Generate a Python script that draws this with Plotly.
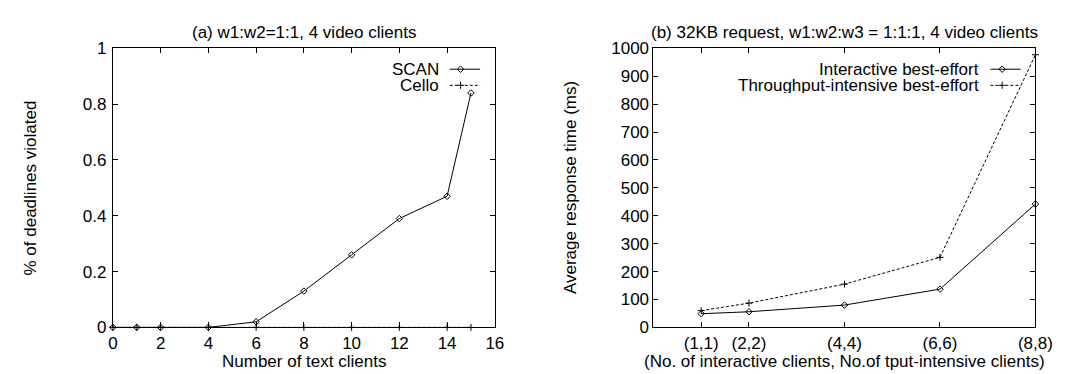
import plotly.graph_objects as go

# ---- data ----
text_clients = [0, 1, 2, 4, 6, 8, 10, 12, 14, 15]
scan_violated = [0, 0, 0, 0, 0.02, 0.13, 0.26, 0.39, 0.47, 0.84]
cello_violated = [0, 0, 0, 0, 0, 0, 0, 0, 0, 0]

client_pairs = [1, 2, 4, 6, 8]
pair_labels = ["(1,1)", "(2,2)", "(4,4)", "(6,6)", "(8,8)"]
interactive_ms = [49, 56, 80, 137, 442]
throughput_ms = [60, 87, 155, 251, 977]

W, H = 1065, 374
FONT = "Liberation Sans, Arial, Helvetica, sans-serif"
FS = 17

def px(x):
    return x / W

def py(y):
    return 1 - y / H

fig = go.Figure()

line_solid = dict(color="black", width=1)
line_dash = dict(color="black", width=1, dash="3px,2px")
m_diamond = dict(symbol="diamond-open", size=5, color="black", line=dict(width=1, color="black"))
m_plus = dict(symbol="cross-thin-open", size=5, color="black", line=dict(width=1, color="black"))

# left panel
fig.add_trace(go.Scatter(x=text_clients, y=cello_violated, mode="lines+markers",
                         line=line_dash, marker=m_plus, xaxis="x", yaxis="y",
                         cliponaxis=False, showlegend=False))
fig.add_trace(go.Scatter(x=text_clients, y=scan_violated, mode="lines+markers",
                         line=line_solid, marker=m_diamond, xaxis="x", yaxis="y",
                         cliponaxis=False, showlegend=False))
# right panel
fig.add_trace(go.Scatter(x=client_pairs, y=throughput_ms, mode="lines+markers",
                         line=line_dash, marker=m_plus, xaxis="x2", yaxis="y2",
                         cliponaxis=False, showlegend=False))
fig.add_trace(go.Scatter(x=client_pairs, y=interactive_ms, mode="lines+markers",
                         line=line_solid, marker=m_diamond, xaxis="x2", yaxis="y2",
                         cliponaxis=False, showlegend=False))

# legend samples on a pixel overlay axis
legend_items = [
    ("SCAN", 436, 55, 446, 477, 457, line_solid, m_diamond),
    ("Cello", 436, 72, 446, 477, 457, line_dash, m_plus),
    ("Interactive best-effort", 987, 55, 998, 1029, 1010, line_solid, m_diamond),
    ("Throughput-intensive best-effort", 987, 72, 998, 1029, 1010, line_dash, m_plus),
]
annotations = []
for label, tx, ty, x0, x1, xm, ln, mk in legend_items:
    fig.add_trace(go.Scatter(x=[x0, x1], y=[ty, ty], mode="lines", line=ln,
                             xaxis="x3", yaxis="y3", showlegend=False, hoverinfo="skip"))
    fig.add_trace(go.Scatter(x=[xm], y=[ty], mode="markers", marker=mk,
                             xaxis="x3", yaxis="y3", showlegend=False, hoverinfo="skip"))
    annotations.append(dict(text=label, x=px(tx), y=py(ty), xref="paper", yref="paper",
                            xanchor="right", yanchor="middle", showarrow=False,
                            height=15, valign="middle", borderpad=0,
                            font=dict(family=FONT, size=FS, color="black")))

def ann(text, x, y, angle=0):
    return dict(text=text, x=px(x), y=py(y), xref="paper", yref="paper",
                xanchor="center", yanchor="middle", textangle=angle, showarrow=False,
                font=dict(family=FONT, size=FS, color="black"))

annotations += [
    ann("(a) w1:w2=1:1, 4 video clients", 297, 16),
    ann("(b) 32KB request, w1:w2:w3 = 1:1:1, 4 video clients", 849, 16),
    ann("Number of text clients", 297, 363),
    ann("(No. of interactive clients, No.of tput-intensive clients)", 849, 363),
    ann("% of deadlines violated", 18, 180, -90),
    ann("Average response time (ms)", 570, 180, -90),
]

ax_common = dict(showgrid=False, zeroline=False, showline=True, linecolor="black", linewidth=1,
                 mirror="ticks", ticks="inside", ticklen=5, tickcolor="black", tickwidth=1,
                 tickfont=dict(family=FONT, size=FS, color="black"))

ydom = [py(327), py(33)]
fig.update_layout(
    width=W, height=H,
    margin=dict(l=0, r=0, t=0, b=0),
    paper_bgcolor="white", plot_bgcolor="rgba(0,0,0,0)",
    showlegend=False,
    xaxis=dict(domain=[px(102), px(492)], range=[0, 16], tickmode="array",
               tickvals=[0, 2, 4, 6, 8, 10, 12, 14, 16], anchor="y", **ax_common),
    yaxis=dict(domain=ydom, range=[0, 1], tickmode="array",
               tickvals=[0, 0.2, 0.4, 0.6, 0.8, 1], ticktext=["0", "0.2", "0.4", "0.6", "0.8", "1"],
               anchor="x", ticklabelstandoff=2, **ax_common),
    xaxis2=dict(domain=[px(654), px(1044)], range=[0, 8], tickmode="array",
                tickvals=client_pairs, ticktext=pair_labels, anchor="y2", **ax_common),
    yaxis2=dict(domain=ydom, range=[0, 1000], tickmode="array",
                tickvals=list(range(0, 1001, 100)), anchor="x2", **ax_common),
    xaxis3=dict(domain=[0, 1], range=[0, W], visible=False, anchor="y3", fixedrange=True),
    yaxis3=dict(domain=[0, 1], range=[H, 0], visible=False, anchor="x3", fixedrange=True),
    annotations=annotations,
    font=dict(family=FONT, size=FS, color="black"),
)

fig.write_html("out.html")
